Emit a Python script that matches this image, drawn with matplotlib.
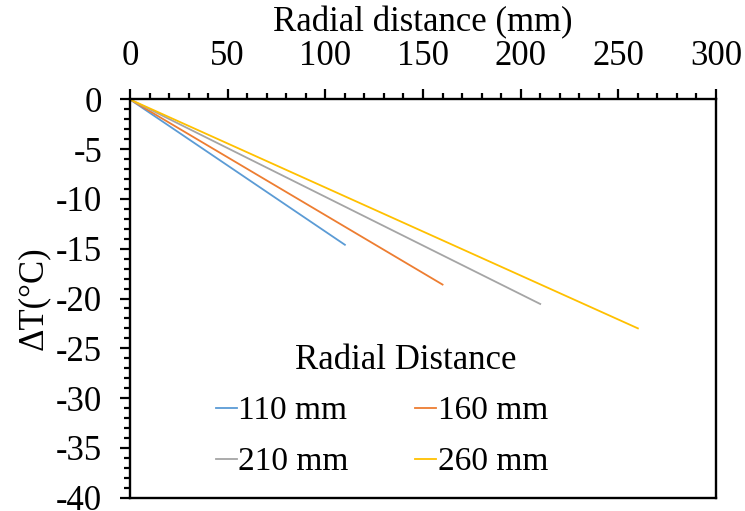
import matplotlib
matplotlib.use("Agg")
import matplotlib.pyplot as plt
from matplotlib.ticker import MultipleLocator

# Temperature drop along the radius for four specimen sizes
series_labels = ["110 mm", "160 mm", "210 mm", "260 mm"]
end_distance = [110, 160, 210, 260]          # mm
end_delta_t = [-14.6, -18.6, -20.55, -23.0]  # °C
colors = ["#5B9BD5", "#ED7D31", "#A5A5A5", "#FFC000"]

plt.rcParams["font.family"] = ["Liberation Serif", "DejaVu Serif"]
plt.rcParams["axes.unicode_minus"] = False

fig = plt.figure(figsize=(7.45, 5.11), dpi=100)
ax = fig.add_axes([0.1745, 0.0264, 0.7866, 0.7789])

handles = []
for lab, xe, ye, c in zip(series_labels, end_distance, end_delta_t, colors):
    h, = ax.plot([0, xe], [0, ye], color=c, lw=1.3, label=lab)
    handles.append(h)

ax.set_xlim(0, 300)
ax.set_ylim(-40, 0)
ax.xaxis.tick_top()
ax.xaxis.set_label_position("top")
ax.xaxis.set_major_locator(MultipleLocator(50))
ax.xaxis.set_minor_locator(MultipleLocator(10))
ax.yaxis.set_major_locator(MultipleLocator(5))
ax.yaxis.set_minor_locator(MultipleLocator(1))

fs = 25
ax.tick_params(axis="both", which="major", length=7, width=1.6,
               labelsize=fs, direction="out")
ax.tick_params(axis="both", which="minor", length=4.5, width=1.6,
               direction="out")
ax.tick_params(axis="x", which="both", pad=12)
ax.tick_params(axis="y", which="both", pad=13)

for s in ax.spines.values():
    s.set_linewidth(1.7)

ax.set_xlabel("Radial distance (mm)", fontsize=fs, labelpad=6)
ax.set_ylabel("ΔT(°C)", fontsize=fs, labelpad=4)

# legend heading, then two columns filled row by row: 110 | 160 / 210 | 260
ax.text(0.471, 0.345, "Radial Distance", transform=ax.transAxes,
        ha="center", va="center", fontsize=fs)
order = [0, 2, 1, 3]
leg = ax.legend([handles[i] for i in order], [series_labels[i] for i in order],
                ncol=2, frameon=False, fontsize=24,
                loc="center", bbox_to_anchor=(0.43, 0.153),
                handlelength=0.62, handletextpad=0.05,
                columnspacing=2.0, labelspacing=0.62)

fig.savefig("out.png", dpi=100)
